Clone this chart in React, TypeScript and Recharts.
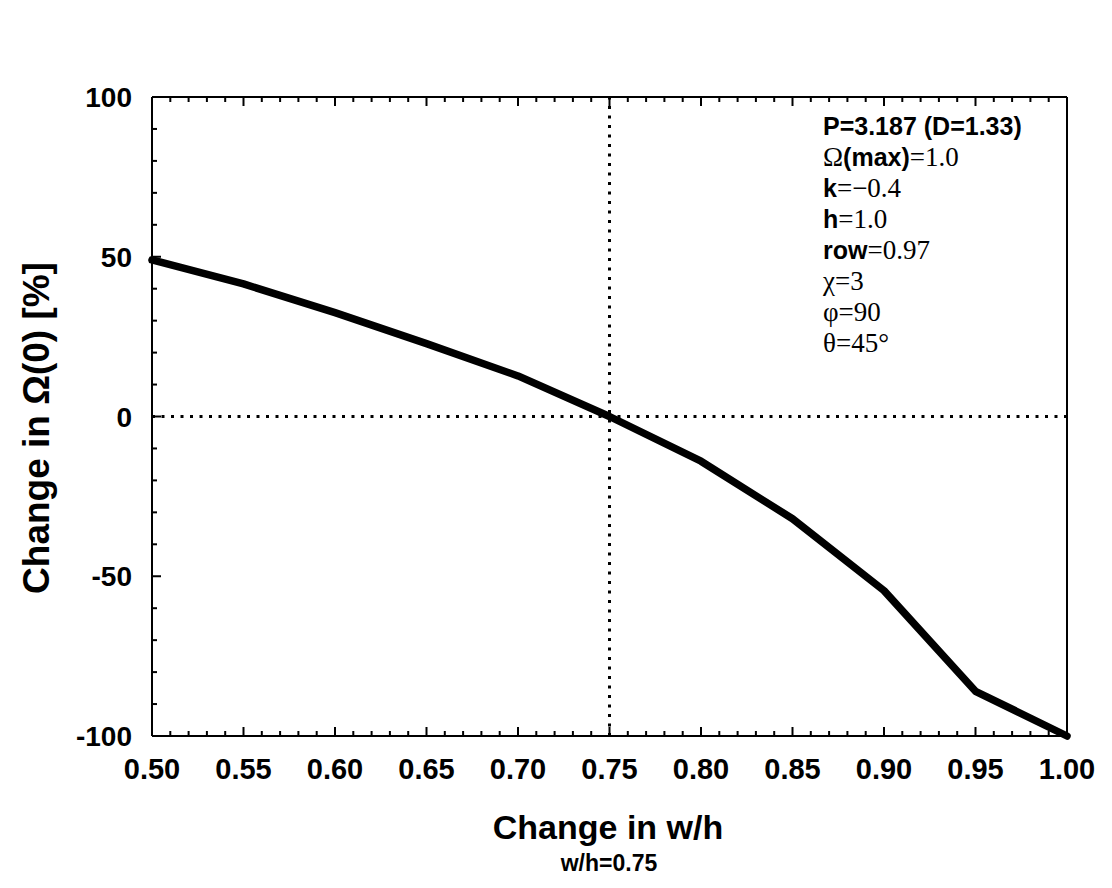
import React from "react";
import {
  LineChart, Line, XAxis, YAxis, ReferenceLine,
} from "recharts";

// w/h values and the resulting change in Omega(0), in percent
const whValues = [0.5, 0.55, 0.6, 0.65, 0.7, 0.75, 0.8, 0.85, 0.9, 0.95, 1.0];
const omegaChange = [49, 41.5, 32.5, 22.8, 12.7, 0, -14, -32, -54.5, -86, -100];

// every 0.01 gets a tick, every 0.05 a label
const xTicks = [
  0.5, 0.51, 0.52, 0.53, 0.54, 0.55, 0.56, 0.57, 0.58, 0.59,
  0.6, 0.61, 0.62, 0.63, 0.64, 0.65, 0.66, 0.67, 0.68, 0.69,
  0.7, 0.71, 0.72, 0.73, 0.74, 0.75, 0.76, 0.77, 0.78, 0.79,
  0.8, 0.81, 0.82, 0.83, 0.84, 0.85, 0.86, 0.87, 0.88, 0.89,
  0.9, 0.91, 0.92, 0.93, 0.94, 0.95, 0.96, 0.97, 0.98, 0.99, 1.0,
];
const yTicks = [
  -100, -90, -80, -70, -60, -50, -40, -30, -20, -10, 0,
  10, 20, 30, 40, 50, 60, 70, 80, 90, 100,
];

// parameter block in the upper right: [text, sans-bold?]
const paramLines: [string, boolean][][] = [
  [["P=3.187 (D=1.33)", true]],
  [["Ω", false], ["(max)", true], ["=1.0", false]],
  [["k", true], ["=−0.4", false]],
  [["h", true], ["=1.0", false]],
  [["row", true], ["=0.97", false]],
  [["χ=3", false]],
  [["φ=90", false]],
  [["θ=45°", false]],
];

const data = whValues.map((x, i) => ({ x, y: omegaChange[i] }));

const W = 1096;
const H = 872;
// axes take 1px each, so the plot box is the margin box shrunk by that
const M = { top: 88, right: 36, bottom: 143, left: 143 };
const SANS = "'Liberation Sans', Arial, sans-serif";
const SERIF = "'Liberation Serif', 'Times New Roman', serif";

const isMajorX = (v: number) => Math.round(v * 100) % 5 === 0;
const isMajorY = (v: number) => Math.round(v) % 50 === 0;

function BottomTick({ x, y, payload }: any) {
  const major = isMajorX(payload.value);
  return (
    <g>
      <line x1={x} x2={x} y1={y} y2={y - (major ? 9 : 5)} stroke="#000" strokeWidth={2} />
      {major && (
        <text x={x} y={y + 43} textAnchor="middle" fontFamily={SANS} fontWeight="bold" fontSize={29} fill="#000">
          {payload.value.toFixed(2)}
        </text>
      )}
    </g>
  );
}

function TopTick({ x, y, payload }: any) {
  const major = isMajorX(payload.value);
  return <line x1={x} x2={x} y1={y} y2={y + (major ? 9 : 5)} stroke="#000" strokeWidth={2} />;
}

function LeftTick({ x, y, payload }: any) {
  const major = isMajorY(payload.value);
  return (
    <g>
      <line x1={x} x2={x + (major ? 9 : 5)} y1={y} y2={y} stroke="#000" strokeWidth={2} />
      {major && (
        <text x={x - 20} y={y + 10} textAnchor="end" fontFamily={SANS} fontWeight="bold" fontSize={28} fill="#000">
          {payload.value}
        </text>
      )}
    </g>
  );
}

function RightTick({ x, y, payload }: any) {
  const major = isMajorY(payload.value);
  return <line x1={x} x2={x - (major ? 9 : 5)} y1={y} y2={y} stroke="#000" strokeWidth={2} />;
}

const axisLine = { stroke: "#000", strokeWidth: 2 };

export default function App() {
  return (
    <div style={{ position: "relative", width: W, height: H, background: "#fff" }}>
      <LineChart width={W} height={H} data={data} margin={M}>
        <XAxis
          xAxisId="bottom" dataKey="x" type="number" domain={[0.5, 1]}
          ticks={xTicks} interval={0} height={1} tickSize={0} tickMargin={0}
          tickLine={false} axisLine={axisLine} tick={<BottomTick />}
        />
        <XAxis
          xAxisId="top" orientation="top" dataKey="x" type="number" domain={[0.5, 1]}
          ticks={xTicks} interval={0} height={1} tickSize={0} tickMargin={0}
          tickLine={false} axisLine={axisLine} tick={<TopTick />}
        />
        <YAxis
          yAxisId="left" type="number" domain={[-100, 100]}
          ticks={yTicks} interval={0} width={1} tickSize={0} tickMargin={0}
          tickLine={false} axisLine={axisLine} tick={<LeftTick />}
        />
        <YAxis
          yAxisId="right" orientation="right" type="number" domain={[-100, 100]}
          ticks={yTicks} interval={0} width={1} tickSize={0} tickMargin={0}
          tickLine={false} axisLine={axisLine} tick={<RightTick />}
        />
        <ReferenceLine xAxisId="bottom" yAxisId="left" x={0.75} stroke="#000" strokeWidth={3} strokeDasharray="3 6.5" />
        <ReferenceLine xAxisId="bottom" yAxisId="left" y={0} stroke="#000" strokeWidth={3} strokeDasharray="3 6.5" />
        <Line
          xAxisId="bottom" yAxisId="left" type="linear" dataKey="y"
          stroke="#000" strokeWidth={7.5} strokeLinecap="round" strokeLinejoin="round"
          dot={false} isAnimationActive={false}
        />
      </LineChart>

      {/* titles and the parameter block */}
      <svg
        width={W} height={H}
        style={{ position: "absolute", left: 0, top: 0, pointerEvents: "none" }}
      >
        <text
          transform="translate(41,420) rotate(-90)" textAnchor="middle"
          fontFamily={SANS} fontWeight="bold" fontSize={37} fill="#000"
        >
          Change in Ω(0) [%]
        </text>
        <text x={600} y={831} textAnchor="middle" fontFamily={SANS} fontWeight="bold" fontSize={34} fill="#000">
          Change in w/h
        </text>
        <text x={601} y={863} textAnchor="middle" fontFamily={SANS} fontWeight="bold" fontSize={23} fill="#000">
          w/h=0.75
        </text>
        {paramLines.map((segs, i) => (
          <text key={i} x={815} y={127 + i * 31} fill="#000">
            {segs.map(([t, sans], j) => (
              <tspan
                key={j}
                fontFamily={sans ? SANS : SERIF}
                fontWeight={sans ? "bold" : "normal"}
                fontSize={sans ? 25 : 27}
              >
                {t}
              </tspan>
            ))}
          </text>
        ))}
      </svg>
    </div>
  );
}
